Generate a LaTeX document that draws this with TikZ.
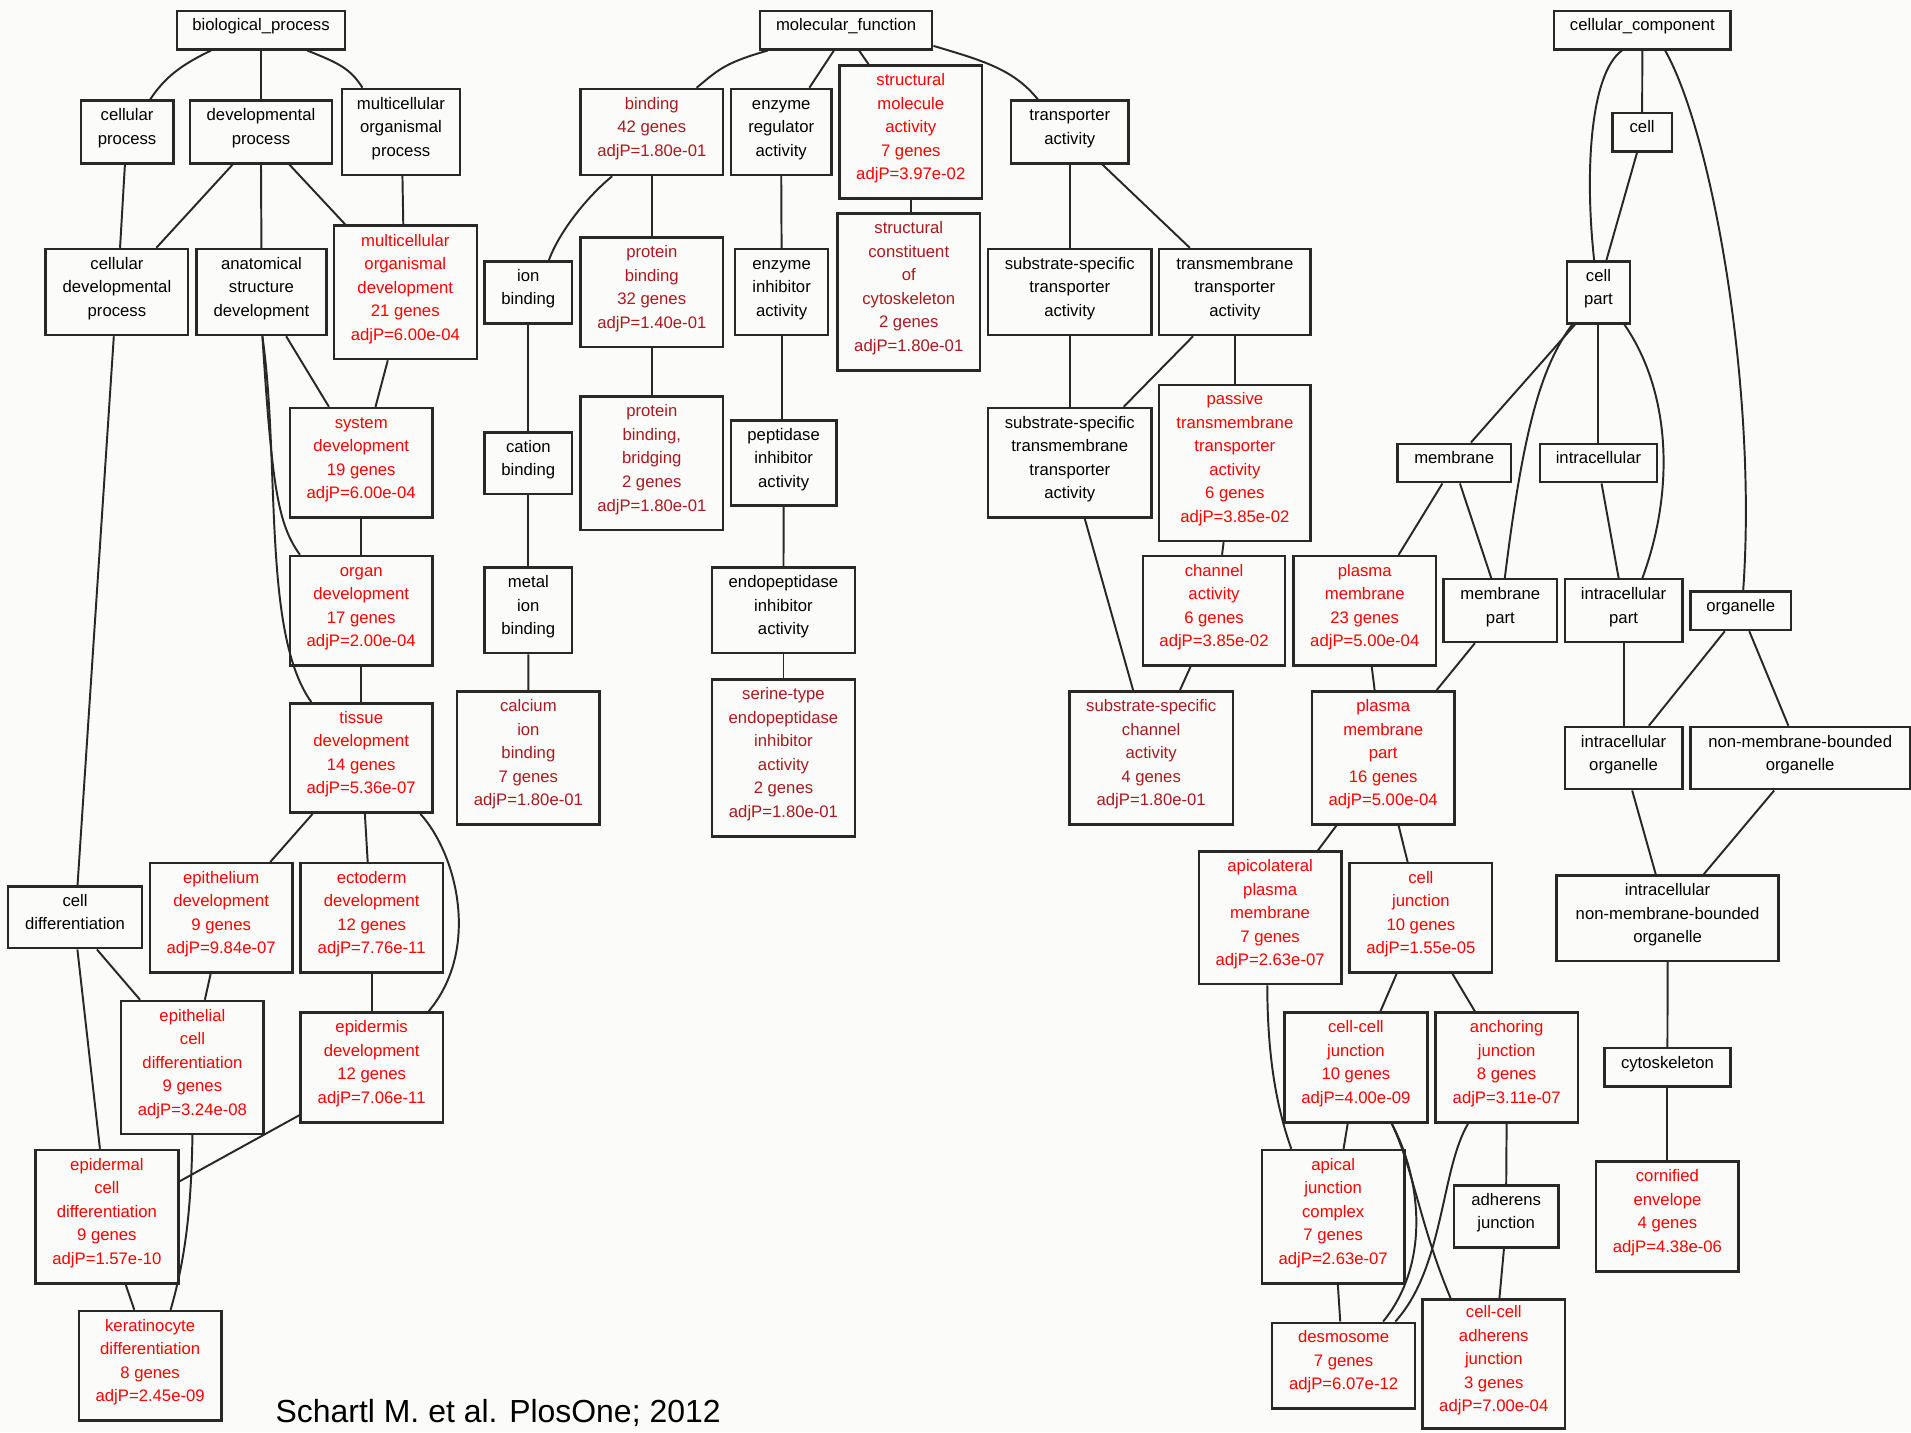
\documentclass[tikz,border=0pt]{standalone}
\usepackage{fontspec}
\setmainfont{Liberation Sans}
\definecolor{redA}{RGB}{255,0,0}
\definecolor{redB}{RGB}{170,25,30}
\definecolor{linec}{RGB}{40,40,40}
\definecolor{bgc}{RGB}{251,252,250}
\newcommand{\gofont}{\fontsize{13.7}{19.3}\selectfont}
\newcommand{\citefont}{\fontsize{26.2}{30}\selectfont}
\tikzset{
  gbox/.style={draw=linec, line width=2pt, rectangle, inner sep=0pt, align=center, font=\gofont},
  blk/.style={text=black},
  rb/.style={text=redA},
  rd/.style={text=redB},
  conn/.style={draw=linec, line width=1.6pt}
}
\newcommand{\gnode}[7]{\node[gbox,#2,minimum width={#5-(#3)},minimum height={#6-(#4)}] (#1) at ({(#3+#5)/2},{(#4+#6)/2}) {\raisebox{3.3pt}[\height][\depth]{\begin{tabular}{@{}c@{}}#7\end{tabular}}};}
\begin{document}
\begin{tikzpicture}[x=1pt,y=-1pt]
\fill[bgc] (0,0) rectangle (1568,1175);
\useasboundingbox (0,0) rectangle (1568,1175);
% ---------------- biological process
\gnode{bp}{blk}{145.0}{8.8}{283.3}{40.5}{biological\_process}
\gnode{cp}{blk}{66.3}{82.6}{142.3}{134.0}{cellular\\process}
\gnode{dp}{blk}{155.7}{82.6}{272.6}{134.0}{developmental\\process}
\gnode{mop}{blk}{280.6}{73.0}{377.4}{143.6}{multicellular\\organismal\\process}
\gnode{cdp}{blk}{37.5}{204.3}{154.4}{274.9}{cellular\\developmental\\process}
\gnode{asd}{blk}{161.1}{204.3}{267.9}{274.9}{anatomical\\structure\\development}
\gnode{mod}{rb}{273.9}{185.2}{391.2}{294.6}{multicellular\\organismal\\development\\21 genes\\adjP=6.00e-04}
\gnode{sd}{rb}{237.8}{334.8}{355.0}{424.7}{system\\development\\19 genes\\adjP=6.00e-04}
\gnode{od}{rb}{237.8}{456.2}{355.0}{545.9}{organ\\development\\17 genes\\adjP=2.00e-04}
\gnode{td}{rb}{237.8}{577.1}{355.0}{666.8}{tissue\\development\\14 genes\\adjP=5.36e-07}
\gnode{cd}{blk}{6.7}{727.5}{116.5}{778.0}{cell\\differentiation}
\gnode{epd}{rb}{122.9}{708.3}{240.1}{798.1}{epithelium\\development\\9 genes\\adjP=9.84e-07}
\gnode{ecd}{rb}{246.5}{708.3}{363.4}{798.1}{ectoderm\\development\\12 genes\\adjP=7.76e-11}
\gnode{ecdiff}{rb}{99.5}{821.3}{216.3}{930.4}{epithelial\\cell\\differentiation\\9 genes\\adjP=3.24e-08}
\gnode{edev}{rb}{246.5}{830.9}{363.4}{920.9}{epidermis\\development\\12 genes\\adjP=7.06e-11}
\gnode{edcd}{rb}{29.1}{943.6}{146.3}{1053.0}{epidermal\\cell\\differentiation\\9 genes\\adjP=1.57e-10}
\gnode{kd}{rb}{64.6}{1075.7}{181.8}{1165.4}{keratinocyte\\differentiation\\8 genes\\adjP=2.45e-09}
% ---------------- molecular function
\gnode{mf}{blk}{623.6}{8.8}{764.9}{40.5}{molecular\_function}
\gnode{bind}{rd}{476.2}{73.0}{593.4}{143.6}{binding\\42 genes\\adjP=1.80e-01}
\gnode{er}{blk}{599.8}{73.0}{682.2}{143.6}{enzyme\\regulator\\activity}
\gnode{sma}{rb}{688.9}{53.6}{805.7}{163.0}{structural\\molecule\\activity\\7 genes\\adjP=3.97e-02}
\gnode{ta}{blk}{829.5}{82.6}{926.0}{134.0}{transporter\\activity}
\gnode{ib}{blk}{397.5}{214.4}{469.5}{265.3}{ion\\binding}
\gnode{pb}{rd}{476.2}{195.0}{593.4}{284.7}{protein\\binding\\32 genes\\adjP=1.40e-01}
\gnode{ei}{blk}{603.1}{204.3}{679.5}{274.9}{enzyme\\inhibitor\\activity}
\gnode{scc}{rd}{687.2}{175.3}{804.1}{303.9}{structural\\constituent\\of\\cytoskeleton\\2 genes\\adjP=1.80e-01}
\gnode{sst}{blk}{810.8}{204.3}{944.7}{274.9}{substrate-specific\\transporter\\activity}
\gnode{tt}{blk}{951.1}{204.3}{1075.3}{274.9}{transmembrane\\transporter\\activity}
\gnode{cb}{blk}{397.5}{354.8}{469.5}{405.3}{cation\\binding}
\gnode{pbb}{rd}{476.2}{325.5}{593.4}{434.8}{protein\\binding,\\bridging\\2 genes\\adjP=1.80e-01}
\gnode{pia}{blk}{599.8}{344.9}{686.2}{414.9}{peptidase\\inhibitor\\activity}
\gnode{sstt}{blk}{810.8}{334.8}{944.7}{424.7}{substrate-specific\\transmembrane\\transporter\\activity}
\gnode{ptt}{rb}{951.1}{315.9}{1075.3}{443.9}{passive\\transmembrane\\transporter\\activity\\6 genes\\adjP=3.85e-02}
\gnode{mib}{blk}{397.5}{465.7}{469.5}{536.0}{metal\\ion\\binding}
\gnode{cab}{rd}{375.1}{567.2}{492.0}{676.6}{calcium\\ion\\binding\\7 genes\\adjP=1.80e-01}
\gnode{eia}{blk}{584.4}{465.7}{701.3}{536.0}{endopeptidase\\inhibitor\\activity}
\gnode{sei}{rd}{584.4}{557.6}{701.3}{686.2}{serine-type\\endopeptidase\\inhibitor\\activity\\2 genes\\adjP=1.80e-01}
\gnode{ca}{rb}{937.7}{456.2}{1054.5}{545.9}{channel\\activity\\6 genes\\adjP=3.85e-02}
\gnode{ssc}{rd}{877.4}{567.2}{1011.7}{676.6}{substrate-specific\\channel\\activity\\4 genes\\adjP=1.80e-01}
% ---------------- cellular component
\gnode{cc}{blk}{1275.2}{8.8}{1419.9}{40.5}{cellular\_component}
\gnode{cell}{blk}{1323.1}{92.7}{1371.7}{124.2}{cell}
\gnode{cpart}{blk}{1285.6}{214.4}{1337.5}{265.3}{cell\\part}
\gnode{mem}{blk}{1146.6}{364.1}{1239.7}{395.7}{membrane}
\gnode{ic}{blk}{1263.5}{364.1}{1359.6}{395.7}{intracellular}
\gnode{pm}{rb}{1061.2}{456.2}{1178.4}{545.9}{plasma\\membrane\\23 genes\\adjP=5.00e-04}
\gnode{mp}{blk}{1184.5}{475.3}{1277.6}{526.7}{membrane\\part}
\gnode{icp}{blk}{1283.9}{475.3}{1380.4}{526.7}{intracellular\\part}
\gnode{org}{blk}{1387.1}{485.4}{1469.5}{516.9}{organelle}
\gnode{pmp}{rb}{1076.3}{567.2}{1193.5}{676.6}{plasma\\membrane\\part\\16 genes\\adjP=5.00e-04}
\gnode{ico}{blk}{1283.9}{596.5}{1380.4}{647.6}{intracellular\\organelle}
\gnode{nmbo}{blk}{1387.1}{596.5}{1567.0}{647.6}{non-membrane-bounded\\organelle}
\gnode{apm}{rb}{983.6}{698.8}{1100.7}{807.6}{apicolateral\\plasma\\membrane\\7 genes\\adjP=2.63e-07}
\gnode{cj}{rb}{1107.4}{708.3}{1224.3}{798.1}{cell\\junction\\10 genes\\adjP=1.55e-05}
\gnode{inmbo}{blk}{1277.2}{718.5}{1459.4}{788.5}{intracellular\\non-membrane-bounded\\organelle}
\gnode{ccj}{rb}{1053.9}{830.9}{1171.1}{920.9}{cell-cell\\junction\\10 genes\\adjP=4.00e-09}
\gnode{aj}{rb}{1177.8}{830.9}{1294.6}{920.9}{anchoring\\junction\\8 genes\\adjP=3.11e-07}
\gnode{cyto}{blk}{1316.4}{859.9}{1419.9}{891.6}{cytoskeleton}
\gnode{ajc}{rb}{1035.5}{943.6}{1152.3}{1053.0}{apical\\junction\\complex\\7 genes\\adjP=2.63e-07}
\gnode{adj}{blk}{1192.8}{972.6}{1278.9}{1023.7}{adherens\\junction}
\gnode{ce}{rb}{1309.7}{953.1}{1426.6}{1043.1}{cornified\\envelope\\4 genes\\adjP=4.38e-06}
\gnode{des}{rb}{1043.9}{1085.3}{1161.0}{1155.8}{desmosome\\7 genes\\adjP=6.07e-12}
\gnode{ccaj}{rb}{1167.0}{1066.1}{1284.3}{1172.0}{cell-cell\\adherens\\junction\\3 genes\\adjP=7.00e-04}
% citation
\node[anchor=base west, font=\citefont, inner sep=0pt] (cite) at (226,1166.8) {Schartl M. et al. PlosOne; 2012};
% ---------------- edges: biological process
\draw[conn] ([xshift=-41.05pt]bp.south) .. controls +(-25,12) and +(12,-18) .. ([xshift=18.9pt]cp.north);
\draw[conn] (bp.south) -- (dp.north);
\draw[conn] ([xshift=38.05pt]bp.south) .. controls +(25,10) and +(-10,-16) .. ([xshift=-31.6pt]mop.north);
\draw[conn] ([xshift=-1.8pt]cp.south) -- ([xshift=2.55pt]cdp.north);
\draw[conn] ([xshift=-23.25pt]dp.south) -- ([xshift=32.35pt]cdp.north);
\draw[conn] (dp.south) -- (asd.north);
\draw[conn] ([xshift=23.25pt]dp.south) -- ([xshift=-49.25pt]mod.north);
\draw[conn] ([xshift=1.2pt]mop.south) -- ([xshift=-1.65pt]mod.north);
\draw[conn] ([xshift=20.3pt]asd.south) -- ([xshift=-26.5pt]sd.north);
\draw[conn] ([xshift=-14.35pt]mod.south) -- ([xshift=11.7pt]sd.north);
\draw[conn] ([xshift=0.8pt]asd.south) .. controls +(8,125) and +(-18,-25) .. ([xshift=-50.3pt]od.north);
\draw[conn] ([xshift=0.8pt]asd.south) .. controls (230,380) and (215,520) .. ([xshift=-40.9pt]td.north);
\draw[conn] (sd.south) -- (od.north);
\draw[conn] (od.south) -- (td.north);
\draw[conn] ([xshift=-39.9pt]td.south) -- ([xshift=40.2pt]epd.north);
\draw[conn] ([xshift=3pt]td.south) -- ([xshift=-3.25pt]ecd.north);
\draw[conn] ([xshift=48.5pt]td.south) .. controls +(30,33) and +(43,-51) .. ([xshift=46.65pt]edev.north);
\draw[conn] ([xshift=-2.55pt]cdp.south) -- ([xshift=2pt]cd.north);
\draw[conn] ([xshift=17.9pt]cd.south) -- ([xshift=-43pt]ecdiff.north);
\draw[conn] ([xshift=1.9pt]cd.south) -- ([xshift=-5.7pt]edcd.north);
\draw[conn] ([xshift=-8.7pt]epd.south) -- ([xshift=10.2pt]ecdiff.north);
\draw[conn] (ecd.south) -- (edev.north);
\draw[conn] ([yshift=-39.2pt]edev.west) -- ([yshift=29pt]edcd.east);
\draw[conn] (ecdiff.south) .. controls +(-1,70) and +(10,-35) .. ([xshift=16.8pt]kd.north);
\draw[conn] ([xshift=15.4pt]edcd.south) -- ([xshift=-13pt]kd.north);
% ---------------- edges: molecular function
\draw[conn] ([xshift=-64.35pt]mf.south) .. controls +(-35,10) and +(18,-15) .. ([xshift=36.8pt]bind.north);
\draw[conn] ([xshift=-10.05pt]mf.south) -- ([xshift=23.1pt]er.north);
\draw[conn] ([xshift=10.65pt]mf.south) -- ([xshift=-34.7pt]sma.north);
\draw[conn] ([yshift=-13pt]mf.east) .. controls +(40,12) and +(-20,-25) .. ([xshift=-26.15pt]ta.north);
\draw[conn] (bind.south) -- (pb.north);
\draw[conn] ([xshift=-32.5pt]bind.south) .. controls +(-22,18) and +(8,-22) .. ([xshift=16.9pt]ib.north);
\draw[conn] (pb.south) -- (pbb.north);
\draw[conn] (er.south) -- (ei.north);
\draw[conn] (ei.south) -- (ei.south |- pia.north);
\draw[conn] (pia.south) -- (eia.north);
\draw[conn] (eia.south) -- (sei.north);
\draw[conn] (sma.south) -- (sma.south |- scc.north);
\draw[conn] (ib.south) -- (cb.north);
\draw[conn] (cb.south) -- (mib.north);
\draw[conn] (mib.south) -- (cab.north);
\draw[conn] (ta.south) -- (sst.north);
\draw[conn] ([xshift=26.75pt]ta.south) -- ([xshift=-37pt]tt.north);
\draw[conn] (sst.south) -- (sstt.north);
\draw[conn] ([xshift=-34.3pt]tt.south) -- ([xshift=44.25pt]sstt.north);
\draw[conn] (tt.south) -- (ptt.north);
\draw[conn] ([xshift=-9.2pt]ptt.south) -- ([xshift=6.6pt]ca.north);
\draw[conn] ([xshift=12.35pt]sstt.south) -- ([xshift=-14.85pt]ssc.north);
\draw[conn] ([xshift=-19.2pt]ca.south) -- ([xshift=23.65pt]ssc.north);
% ---------------- edges: cellular component
\draw[conn] (cc.south) -- (cell.north);
\draw[conn] ([xshift=-16.75pt]cc.south) .. controls (1305,60) and (1300,140) .. ([xshift=-3.55pt]cpart.north);
\draw[conn] ([xshift=-4.2pt]cell.south) -- ([xshift=6.55pt]cpart.north);
\draw[conn] ([xshift=18.75pt]cc.south) .. controls (1405,110) and (1442,320) .. ([xshift=2pt]org.north);
\draw[conn] ([xshift=-19.25pt]cpart.south) -- ([xshift=13.75pt]mem.north);
\draw[conn] ([xshift=-21.55pt]cpart.south) .. controls (1265,300) and (1250,350) .. ([xshift=3.65pt]mp.north);
\draw[conn] (cpart.south) -- (ic.north);
\draw[conn] ([xshift=21.25pt]cpart.south) .. controls (1370,320) and (1375,400) .. ([xshift=15.45pt]icp.north);
\draw[conn] ([xshift=-9.65pt]mem.south) -- ([xshift=27.8pt]pm.north);
\draw[conn] ([xshift=4.75pt]mem.south) -- ([xshift=-7.45pt]mp.north);
\draw[conn] ([xshift=2.55pt]ic.south) -- ([xshift=-4.05pt]icp.north);
\draw[conn] ([xshift=5.7pt]pm.south) -- ([xshift=-7pt]pmp.north);
\draw[conn] ([xshift=-20.85pt]mp.south) -- ([xshift=43.9pt]pmp.north);
\draw[conn] (icp.south) -- (ico.north);
\draw[conn] ([xshift=-13.1pt]org.south) -- ([xshift=20.75pt]ico.north);
\draw[conn] ([xshift=7pt]org.south) -- ([xshift=-9.65pt]nmbo.north);
\draw[conn] ([xshift=7.05pt]ico.south) -- ([xshift=-9.7pt]inmbo.north);
\draw[conn] ([xshift=-21.35pt]nmbo.south) -- ([xshift=29.5pt]inmbo.north);
\draw[conn] ([xshift=-38.5pt]pmp.south) -- ([xshift=39.15pt]apm.north);
\draw[conn] ([xshift=12.7pt]pmp.south) -- ([xshift=-10.85pt]cj.north);
\draw[conn] (inmbo.south) -- (cyto.north);
\draw[conn] (cyto.south) -- (ce.north);
\draw[conn] ([xshift=-19.95pt]cj.south) -- ([xshift=20.1pt]ccj.north);
\draw[conn] ([xshift=25.95pt]cj.south) -- ([xshift=-26pt]aj.north);
\draw[conn] ([xshift=-2.35pt]apm.south) .. controls (1040,870) and (1048,910) .. ([xshift=-34.4pt]ajc.north);
\draw[conn] ([xshift=-6.7pt]ccj.south) -- ([xshift=8.5pt]ajc.north);
\draw[conn] ([xshift=29.4pt]ccj.south) .. controls (1160,960) and (1165,1005) .. ([xshift=-35.45pt]ccaj.north);
\draw[conn] ([xshift=29.4pt]ccj.south) .. controls (1165,965) and (1175,1035) .. ([xshift=32.45pt]des.north);
\draw[conn] ([xshift=-31.6pt]aj.south) .. controls (1182,960) and (1185,1040) .. ([xshift=42.45pt]des.north);
\draw[conn] ([xshift=3.8pt]ajc.south) -- ([xshift=-2.75pt]des.north);
\draw[conn] (aj.south) -- (adj.north);
\draw[conn] ([xshift=-1.85pt]adj.south) -- ([xshift=4.65pt]ccaj.north);
\end{tikzpicture}
\end{document}
